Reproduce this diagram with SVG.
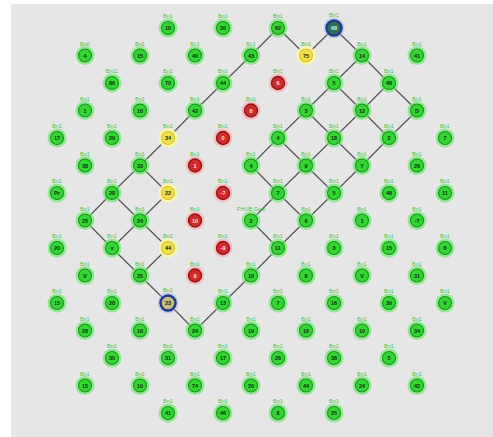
<svg xmlns="http://www.w3.org/2000/svg" width="493" height="437" viewBox="0 0 493 437">
<style>
.h{fill:#6ee86e;opacity:.7}
.c{fill:#33d633;stroke:#1b8f1b;stroke-width:1.1}
.y .h{fill:#fff6a0;opacity:.9}
.y .c{fill:#f1df4a;stroke:#d6c22e}
.r .h{fill:#f4b4b4;opacity:.75}
.r .c{fill:#d22b2b;stroke:#951313;stroke-width:1.4}
.b .h{fill:#9fb4e6;opacity:.5}
.b .c{stroke:#1d3b8f;stroke-width:2.4}
.b1 .c{fill:#2e6c58}
.b2 .c{fill:#cbbb7c}
.l{font-family:"Liberation Sans",Arial,sans-serif;font-size:5.5px;fill:#43c443;text-anchor:middle}
.v{font-family:"Liberation Sans",Arial,sans-serif;font-size:5.5px;font-weight:bold;fill:#0a300a;text-anchor:middle}
.r .v{fill:#ffe2e2}
.b1 .v{fill:#d8f0e8}
#edges line{stroke:#505050;stroke-width:1.1}
</style>
<rect x="11" y="4" width="482" height="433" fill="#e6e6e6"/>
<g id="edges">
<line x1="334" y1="28" x2="306" y2="55.5"/>
<line x1="306" y1="55.5" x2="278" y2="28"/>
<line x1="278" y1="28" x2="251" y2="55.5"/>
<line x1="251" y1="55.5" x2="223" y2="83"/>
<line x1="223" y1="83" x2="195" y2="110.5"/>
<line x1="195" y1="110.5" x2="168" y2="138"/>
<line x1="168" y1="138" x2="140" y2="165.5"/>
<line x1="140" y1="165.5" x2="112" y2="193"/>
<line x1="112" y1="193" x2="85" y2="220.5"/>
<line x1="140" y1="165.5" x2="168" y2="193"/>
<line x1="168" y1="193" x2="140" y2="220.5"/>
<line x1="112" y1="193" x2="140" y2="220.5"/>
<line x1="85" y1="220.5" x2="112" y2="248"/>
<line x1="140" y1="220.5" x2="112" y2="248"/>
<line x1="140" y1="220.5" x2="168" y2="248"/>
<line x1="112" y1="248" x2="140" y2="275.5"/>
<line x1="168" y1="248" x2="140" y2="275.5"/>
<line x1="140" y1="275.5" x2="168" y2="303"/>
<line x1="168" y1="303" x2="195" y2="330.5"/>
<line x1="334" y1="28" x2="362" y2="55.5"/>
<line x1="362" y1="55.5" x2="334" y2="83"/>
<line x1="362" y1="55.5" x2="389" y2="83"/>
<line x1="334" y1="83" x2="306" y2="110.5"/>
<line x1="334" y1="83" x2="362" y2="110.5"/>
<line x1="389" y1="83" x2="362" y2="110.5"/>
<line x1="389" y1="83" x2="417" y2="110.5"/>
<line x1="306" y1="110.5" x2="278" y2="138"/>
<line x1="306" y1="110.5" x2="334" y2="138"/>
<line x1="362" y1="110.5" x2="334" y2="138"/>
<line x1="362" y1="110.5" x2="389" y2="138"/>
<line x1="417" y1="110.5" x2="389" y2="138"/>
<line x1="278" y1="138" x2="251" y2="165.5"/>
<line x1="278" y1="138" x2="306" y2="165.5"/>
<line x1="334" y1="138" x2="306" y2="165.5"/>
<line x1="334" y1="138" x2="362" y2="165.5"/>
<line x1="389" y1="138" x2="362" y2="165.5"/>
<line x1="251" y1="165.5" x2="278" y2="193"/>
<line x1="306" y1="165.5" x2="278" y2="193"/>
<line x1="306" y1="165.5" x2="334" y2="193"/>
<line x1="362" y1="165.5" x2="334" y2="193"/>
<line x1="278" y1="193" x2="251" y2="220.5"/>
<line x1="278" y1="193" x2="306" y2="220.5"/>
<line x1="334" y1="193" x2="306" y2="220.5"/>
<line x1="251" y1="220.5" x2="278" y2="248"/>
<line x1="306" y1="220.5" x2="278" y2="248"/>
<line x1="278" y1="248" x2="251" y2="275.5"/>
<line x1="251" y1="275.5" x2="223" y2="303"/>
<line x1="223" y1="303" x2="195" y2="330.5"/>
</g>
<g id="n0_4" transform="translate(168,28)"><circle class="h" r="9.5"/><circle class="c" r="6.5"/><text class="l" y="-10">Bn1</text><text class="v" y="2">10</text></g>
<g id="n0_6" transform="translate(223,28)"><circle class="h" r="9.5"/><circle class="c" r="6.5"/><text class="l" y="-10">Bn1</text><text class="v" y="2">30</text></g>
<g id="n0_8" transform="translate(278,28)"><circle class="h" r="9.5"/><circle class="c" r="6.5"/><text class="l" y="-10">Bn1</text><text class="v" y="2">62</text></g>
<g id="n0_10" class="b b1" transform="translate(334,28)"><circle class="h" r="10.5"/><circle class="c" r="7.5"/><text class="l" y="-11">Bn1</text><text class="v" y="2">68</text></g>
<g id="n1_1" transform="translate(85,55.5)"><circle class="h" r="9.5"/><circle class="c" r="6.5"/><text class="l" y="-10">Bn0</text><text class="v" y="2">4</text></g>
<g id="n1_3" transform="translate(140,55.5)"><circle class="h" r="9.5"/><circle class="c" r="6.5"/><text class="l" y="-10">Bn1</text><text class="v" y="2">15</text></g>
<g id="n1_5" transform="translate(195,55.5)"><circle class="h" r="9.5"/><circle class="c" r="6.5"/><text class="l" y="-10">Bn1</text><text class="v" y="2">40</text></g>
<g id="n1_7" transform="translate(251,55.5)"><circle class="h" r="9.5"/><circle class="c" r="6.5"/><text class="l" y="-10">Bn1</text><text class="v" y="2">43</text></g>
<g id="n1_9" class="y" transform="translate(306,55.5)"><circle class="h" r="9.5"/><circle class="c" r="6.5"/><text class="l" y="-10">Bn1</text><text class="v" y="2">75</text></g>
<g id="n1_11" transform="translate(362,55.5)"><circle class="h" r="9.5"/><circle class="c" r="6.5"/><text class="l" y="-10">Bn1</text><text class="v" y="2">14</text></g>
<g id="n1_13" transform="translate(417,55.5)"><circle class="h" r="9.5"/><circle class="c" r="6.5"/><text class="l" y="-10">Bn1</text><text class="v" y="2">41</text></g>
<g id="n2_2" transform="translate(112,83)"><circle class="h" r="9.5"/><circle class="c" r="6.5"/><text class="l" y="-10">Bn11</text><text class="v" y="2">86</text></g>
<g id="n2_4" transform="translate(168,83)"><circle class="h" r="9.5"/><circle class="c" r="6.5"/><text class="l" y="-10">Bn1</text><text class="v" y="2">70</text></g>
<g id="n2_6" transform="translate(223,83)"><circle class="h" r="9.5"/><circle class="c" r="6.5"/><text class="l" y="-10">Bn1</text><text class="v" y="2">44</text></g>
<g id="n2_8" class="r" transform="translate(278,83)"><circle class="h" r="9.5"/><circle class="c" r="6.5"/><text class="l" y="-10">Bn1</text><text class="v" y="2">6</text></g>
<g id="n2_10" transform="translate(334,83)"><circle class="h" r="9.5"/><circle class="c" r="6.5"/><text class="l" y="-10">Bn1</text><text class="v" y="2">5</text></g>
<g id="n2_12" transform="translate(389,83)"><circle class="h" r="9.5"/><circle class="c" r="6.5"/><text class="l" y="-10">Bn1</text><text class="v" y="2">46</text></g>
<g id="n3_1" transform="translate(85,110.5)"><circle class="h" r="9.5"/><circle class="c" r="6.5"/><text class="l" y="-10">Bn1</text><text class="v" y="2">1</text></g>
<g id="n3_3" transform="translate(140,110.5)"><circle class="h" r="9.5"/><circle class="c" r="6.5"/><text class="l" y="-10">Bn1</text><text class="v" y="2">16</text></g>
<g id="n3_5" transform="translate(195,110.5)"><circle class="h" r="9.5"/><circle class="c" r="6.5"/><text class="l" y="-10">Bn1</text><text class="v" y="2">42</text></g>
<g id="n3_7" class="r" transform="translate(251,110.5)"><circle class="h" r="9.5"/><circle class="c" r="6.5"/><text class="l" y="-10">Bn1</text><text class="v" y="2">8</text></g>
<g id="n3_9" transform="translate(306,110.5)"><circle class="h" r="9.5"/><circle class="c" r="6.5"/><text class="l" y="-10">Bn1</text><text class="v" y="2">3</text></g>
<g id="n3_11" transform="translate(362,110.5)"><circle class="h" r="9.5"/><circle class="c" r="6.5"/><text class="l" y="-10">Bn1</text><text class="v" y="2">12</text></g>
<g id="n3_13" transform="translate(417,110.5)"><circle class="h" r="9.5"/><circle class="c" r="6.5"/><text class="l" y="-10">Bn1</text><text class="v" y="2">D</text></g>
<g id="n4_0" transform="translate(57,138)"><circle class="h" r="9.5"/><circle class="c" r="6.5"/><text class="l" y="-10">Bn1</text><text class="v" y="2">17</text></g>
<g id="n4_2" transform="translate(112,138)"><circle class="h" r="9.5"/><circle class="c" r="6.5"/><text class="l" y="-10">Bn1</text><text class="v" y="2">29</text></g>
<g id="n4_4" class="y" transform="translate(168,138)"><circle class="h" r="9.5"/><circle class="c" r="6.5"/><text class="l" y="-10">Bn1</text><text class="v" y="2">34</text></g>
<g id="n4_6" class="r" transform="translate(223,138)"><circle class="h" r="9.5"/><circle class="c" r="6.5"/><text class="l" y="-10">Bn1</text><text class="v" y="2">0</text></g>
<g id="n4_8" transform="translate(278,138)"><circle class="h" r="9.5"/><circle class="c" r="6.5"/><text class="l" y="-10">Bn1</text><text class="v" y="2">4</text></g>
<g id="n4_10" transform="translate(334,138)"><circle class="h" r="9.5"/><circle class="c" r="6.5"/><text class="l" y="-10">Bn1</text><text class="v" y="2">18</text></g>
<g id="n4_12" transform="translate(389,138)"><circle class="h" r="9.5"/><circle class="c" r="6.5"/><text class="l" y="-10">Bn1</text><text class="v" y="2">2</text></g>
<g id="n4_14" transform="translate(445,138)"><circle class="h" r="9.5"/><circle class="c" r="6.5"/><text class="l" y="-10">Bn1</text><text class="v" y="2">7</text></g>
<g id="n5_1" transform="translate(85,165.5)"><circle class="h" r="9.5"/><circle class="c" r="6.5"/><text class="l" y="-10">Bn1</text><text class="v" y="2">38</text></g>
<g id="n5_3" transform="translate(140,165.5)"><circle class="h" r="9.5"/><circle class="c" r="6.5"/><text class="l" y="-10">Bn1</text><text class="v" y="2">33</text></g>
<g id="n5_5" class="r" transform="translate(195,165.5)"><circle class="h" r="9.5"/><circle class="c" r="6.5"/><text class="l" y="-10">Bn1</text><text class="v" y="2">1</text></g>
<g id="n5_7" transform="translate(251,165.5)"><circle class="h" r="9.5"/><circle class="c" r="6.5"/><text class="l" y="-10">Bn1</text><text class="v" y="2">4</text></g>
<g id="n5_9" transform="translate(306,165.5)"><circle class="h" r="9.5"/><circle class="c" r="6.5"/><text class="l" y="-10">Bn1</text><text class="v" y="2">9</text></g>
<g id="n5_11" transform="translate(362,165.5)"><circle class="h" r="9.5"/><circle class="c" r="6.5"/><text class="l" y="-10">Bn1</text><text class="v" y="2">Y</text></g>
<g id="n5_13" transform="translate(417,165.5)"><circle class="h" r="9.5"/><circle class="c" r="6.5"/><text class="l" y="-10">Bn1</text><text class="v" y="2">26</text></g>
<g id="n6_0" transform="translate(57,193)"><circle class="h" r="9.5"/><circle class="c" r="6.5"/><text class="l" y="-10">Bn1</text><text class="v" y="2">Pr</text></g>
<g id="n6_2" transform="translate(112,193)"><circle class="h" r="9.5"/><circle class="c" r="6.5"/><text class="l" y="-10">Bn1</text><text class="v" y="2">28</text></g>
<g id="n6_4" class="y" transform="translate(168,193)"><circle class="h" r="9.5"/><circle class="c" r="6.5"/><text class="l" y="-10">Bn1</text><text class="v" y="2">22</text></g>
<g id="n6_6" class="r" transform="translate(223,193)"><circle class="h" r="9.5"/><circle class="c" r="6.5"/><text class="l" y="-10">Bn1</text><text class="v" y="2">-7</text></g>
<g id="n6_8" transform="translate(278,193)"><circle class="h" r="9.5"/><circle class="c" r="6.5"/><text class="l" y="-10">Bn1</text><text class="v" y="2">7</text></g>
<g id="n6_10" transform="translate(334,193)"><circle class="h" r="9.5"/><circle class="c" r="6.5"/><text class="l" y="-10">Bn1</text><text class="v" y="2">5</text></g>
<g id="n6_12" transform="translate(389,193)"><circle class="h" r="9.5"/><circle class="c" r="6.5"/><text class="l" y="-10">Bn1</text><text class="v" y="2">48</text></g>
<g id="n6_14" transform="translate(445,193)"><circle class="h" r="9.5"/><circle class="c" r="6.5"/><text class="l" y="-10">Bn1</text><text class="v" y="2">11</text></g>
<g id="n7_1" transform="translate(85,220.5)"><circle class="h" r="9.5"/><circle class="c" r="6.5"/><text class="l" y="-10">Bn1</text><text class="v" y="2">25</text></g>
<g id="n7_3" transform="translate(140,220.5)"><circle class="h" r="9.5"/><circle class="c" r="6.5"/><text class="l" y="-10">Bn1</text><text class="v" y="2">24</text></g>
<g id="n7_5" class="r" transform="translate(195,220.5)"><circle class="h" r="9.5"/><circle class="c" r="6.5"/><text class="l" y="-10">Bn1</text><text class="v" y="2">10</text></g>
<g id="n7_7" transform="translate(251,220.5)"><circle class="h" r="9.5"/><circle class="c" r="6.5"/><text class="l" y="-10">PHUB Goal</text><text class="v" y="2">2</text></g>
<g id="n7_9" transform="translate(306,220.5)"><circle class="h" r="9.5"/><circle class="c" r="6.5"/><text class="l" y="-10">Bn1</text><text class="v" y="2">6</text></g>
<g id="n7_11" transform="translate(362,220.5)"><circle class="h" r="9.5"/><circle class="c" r="6.5"/><text class="l" y="-10">Bn1</text><text class="v" y="2">1</text></g>
<g id="n7_13" transform="translate(417,220.5)"><circle class="h" r="9.5"/><circle class="c" r="6.5"/><text class="l" y="-10">Bn1</text><text class="v" y="2">-7</text></g>
<g id="n8_0" transform="translate(57,248)"><circle class="h" r="9.5"/><circle class="c" r="6.5"/><text class="l" y="-10">Bn1</text><text class="v" y="2">20</text></g>
<g id="n8_2" transform="translate(112,248)"><circle class="h" r="9.5"/><circle class="c" r="6.5"/><text class="l" y="-10">Bn1</text><text class="v" y="2">v</text></g>
<g id="n8_4" class="y" transform="translate(168,248)"><circle class="h" r="9.5"/><circle class="c" r="6.5"/><text class="l" y="-10">Bn1</text><text class="v" y="2">44</text></g>
<g id="n8_6" class="r" transform="translate(223,248)"><circle class="h" r="9.5"/><circle class="c" r="6.5"/><text class="l" y="-10">Bn1</text><text class="v" y="2">-9</text></g>
<g id="n8_8" transform="translate(278,248)"><circle class="h" r="9.5"/><circle class="c" r="6.5"/><text class="l" y="-10">Bn1</text><text class="v" y="2">11</text></g>
<g id="n8_10" transform="translate(334,248)"><circle class="h" r="9.5"/><circle class="c" r="6.5"/><text class="l" y="-10">Bn1</text><text class="v" y="2">3</text></g>
<g id="n8_12" transform="translate(389,248)"><circle class="h" r="9.5"/><circle class="c" r="6.5"/><text class="l" y="-10">Bn1</text><text class="v" y="2">15</text></g>
<g id="n8_14" transform="translate(445,248)"><circle class="h" r="9.5"/><circle class="c" r="6.5"/><text class="l" y="-10">Bn1</text><text class="v" y="2">8</text></g>
<g id="n9_1" transform="translate(85,275.5)"><circle class="h" r="9.5"/><circle class="c" r="6.5"/><text class="l" y="-10">Bn1</text><text class="v" y="2">V</text></g>
<g id="n9_3" transform="translate(140,275.5)"><circle class="h" r="9.5"/><circle class="c" r="6.5"/><text class="l" y="-10">Bn1</text><text class="v" y="2">25</text></g>
<g id="n9_5" class="r" transform="translate(195,275.5)"><circle class="h" r="9.5"/><circle class="c" r="6.5"/><text class="l" y="-10">Bn1</text><text class="v" y="2">9</text></g>
<g id="n9_7" transform="translate(251,275.5)"><circle class="h" r="9.5"/><circle class="c" r="6.5"/><text class="l" y="-10">Bn1</text><text class="v" y="2">10</text></g>
<g id="n9_9" transform="translate(306,275.5)"><circle class="h" r="9.5"/><circle class="c" r="6.5"/><text class="l" y="-10">Bn1</text><text class="v" y="2">8</text></g>
<g id="n9_11" transform="translate(362,275.5)"><circle class="h" r="9.5"/><circle class="c" r="6.5"/><text class="l" y="-10">Bn1</text><text class="v" y="2">V</text></g>
<g id="n9_13" transform="translate(417,275.5)"><circle class="h" r="9.5"/><circle class="c" r="6.5"/><text class="l" y="-10">Bn1</text><text class="v" y="2">31</text></g>
<g id="n10_0" transform="translate(57,303)"><circle class="h" r="9.5"/><circle class="c" r="6.5"/><text class="l" y="-10">Bn1</text><text class="v" y="2">15</text></g>
<g id="n10_2" transform="translate(112,303)"><circle class="h" r="9.5"/><circle class="c" r="6.5"/><text class="l" y="-10">Bn1</text><text class="v" y="2">28</text></g>
<g id="n10_4" class="b b2" transform="translate(168,303)"><circle class="h" r="10.5"/><circle class="c" r="7.5"/><text class="l" y="-11">Bn1</text><text class="v" y="2">23</text></g>
<g id="n10_6" transform="translate(223,303)"><circle class="h" r="9.5"/><circle class="c" r="6.5"/><text class="l" y="-10">Bn1</text><text class="v" y="2">13</text></g>
<g id="n10_8" transform="translate(278,303)"><circle class="h" r="9.5"/><circle class="c" r="6.5"/><text class="l" y="-10">Bn1</text><text class="v" y="2">7</text></g>
<g id="n10_10" transform="translate(334,303)"><circle class="h" r="9.5"/><circle class="c" r="6.5"/><text class="l" y="-10">Bn1</text><text class="v" y="2">16</text></g>
<g id="n10_12" transform="translate(389,303)"><circle class="h" r="9.5"/><circle class="c" r="6.5"/><text class="l" y="-10">Bn1</text><text class="v" y="2">30</text></g>
<g id="n10_14" transform="translate(445,303)"><circle class="h" r="9.5"/><circle class="c" r="6.5"/><text class="l" y="-10">Bn1</text><text class="v" y="2">V</text></g>
<g id="n11_1" transform="translate(85,330.5)"><circle class="h" r="9.5"/><circle class="c" r="6.5"/><text class="l" y="-10">Bn1</text><text class="v" y="2">28</text></g>
<g id="n11_3" transform="translate(140,330.5)"><circle class="h" r="9.5"/><circle class="c" r="6.5"/><text class="l" y="-10">Bn1</text><text class="v" y="2">16</text></g>
<g id="n11_5" transform="translate(195,330.5)"><circle class="h" r="9.5"/><circle class="c" r="6.5"/><text class="l" y="-10">Bn1</text><text class="v" y="2">24</text></g>
<g id="n11_7" transform="translate(251,330.5)"><circle class="h" r="9.5"/><circle class="c" r="6.5"/><text class="l" y="-10">Bn1</text><text class="v" y="2">19</text></g>
<g id="n11_9" transform="translate(306,330.5)"><circle class="h" r="9.5"/><circle class="c" r="6.5"/><text class="l" y="-10">Bn1</text><text class="v" y="2">16</text></g>
<g id="n11_11" transform="translate(362,330.5)"><circle class="h" r="9.5"/><circle class="c" r="6.5"/><text class="l" y="-10">Bn1</text><text class="v" y="2">10</text></g>
<g id="n11_13" transform="translate(417,330.5)"><circle class="h" r="9.5"/><circle class="c" r="6.5"/><text class="l" y="-10">Bn1</text><text class="v" y="2">34</text></g>
<g id="n12_2" transform="translate(112,358)"><circle class="h" r="9.5"/><circle class="c" r="6.5"/><text class="l" y="-10">Bn1</text><text class="v" y="2">30</text></g>
<g id="n12_4" transform="translate(168,358)"><circle class="h" r="9.5"/><circle class="c" r="6.5"/><text class="l" y="-10">Bn1</text><text class="v" y="2">31</text></g>
<g id="n12_6" transform="translate(223,358)"><circle class="h" r="9.5"/><circle class="c" r="6.5"/><text class="l" y="-10">Bn1</text><text class="v" y="2">17</text></g>
<g id="n12_8" transform="translate(278,358)"><circle class="h" r="9.5"/><circle class="c" r="6.5"/><text class="l" y="-10">Bn1</text><text class="v" y="2">26</text></g>
<g id="n12_10" transform="translate(334,358)"><circle class="h" r="9.5"/><circle class="c" r="6.5"/><text class="l" y="-10">Bn1</text><text class="v" y="2">38</text></g>
<g id="n12_12" transform="translate(389,358)"><circle class="h" r="9.5"/><circle class="c" r="6.5"/><text class="l" y="-10">Bn1</text><text class="v" y="2">5</text></g>
<g id="n13_1" transform="translate(85,385.5)"><circle class="h" r="9.5"/><circle class="c" r="6.5"/><text class="l" y="-10">Bn1</text><text class="v" y="2">15</text></g>
<g id="n13_3" transform="translate(140,385.5)"><circle class="h" r="9.5"/><circle class="c" r="6.5"/><text class="l" y="-10">Bn1</text><text class="v" y="2">10</text></g>
<g id="n13_5" transform="translate(195,385.5)"><circle class="h" r="9.5"/><circle class="c" r="6.5"/><text class="l" y="-10">Bn1</text><text class="v" y="2">74</text></g>
<g id="n13_7" transform="translate(251,385.5)"><circle class="h" r="9.5"/><circle class="c" r="6.5"/><text class="l" y="-10">Bn1</text><text class="v" y="2">20</text></g>
<g id="n13_9" transform="translate(306,385.5)"><circle class="h" r="9.5"/><circle class="c" r="6.5"/><text class="l" y="-10">Bn1</text><text class="v" y="2">44</text></g>
<g id="n13_11" transform="translate(362,385.5)"><circle class="h" r="9.5"/><circle class="c" r="6.5"/><text class="l" y="-10">Bn1</text><text class="v" y="2">24</text></g>
<g id="n13_13" transform="translate(417,385.5)"><circle class="h" r="9.5"/><circle class="c" r="6.5"/><text class="l" y="-10">Bn1</text><text class="v" y="2">42</text></g>
<g id="n14_4" transform="translate(168,413)"><circle class="h" r="9.5"/><circle class="c" r="6.5"/><text class="l" y="-10">Bn1</text><text class="v" y="2">41</text></g>
<g id="n14_6" transform="translate(223,413)"><circle class="h" r="9.5"/><circle class="c" r="6.5"/><text class="l" y="-10">Bn1</text><text class="v" y="2">46</text></g>
<g id="n14_8" transform="translate(278,413)"><circle class="h" r="9.5"/><circle class="c" r="6.5"/><text class="l" y="-10">Bn1</text><text class="v" y="2">8</text></g>
<g id="n14_10" transform="translate(334,413)"><circle class="h" r="9.5"/><circle class="c" r="6.5"/><text class="l" y="-10">Bn1</text><text class="v" y="2">25</text></g>
</svg>
